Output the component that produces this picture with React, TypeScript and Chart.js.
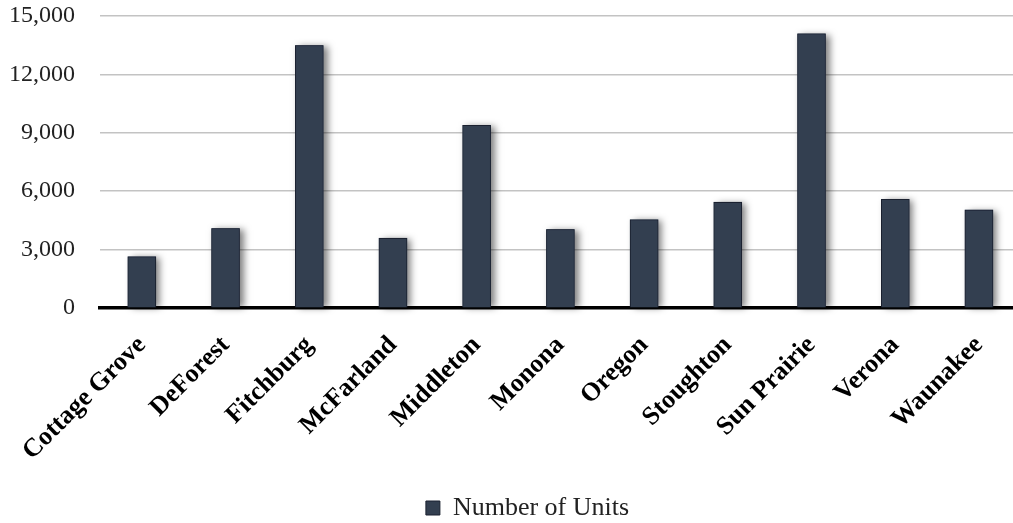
import { useEffect, useRef } from "react";
import { Chart, registerables } from "chart.js";

Chart.register(...registerables);

const categories = [
  "Cottage Grove",
  "DeForest",
  "Fitchburg",
  "McFarland",
  "Middleton",
  "Monona",
  "Oregon",
  "Stoughton",
  "Sun Prairie",
  "Verona",
  "Waunakee",
];
const units = [2650, 4100, 13500, 3600, 9400, 4050, 4550, 5450, 14100, 5600, 5050];
const seriesLabel = "Number of Units";
const yMin = 0;
const yMax = 15000;
const yStep = 3000;

const FONT = "'Liberation Serif', 'Times New Roman', serif";
const BAR_FILL = "#333f50";

export default function App() {
  const ref = useRef<HTMLCanvasElement>(null);

  useEffect(() => {
    document.body.style.margin = "0";
    document.body.style.overflow = "hidden";
    const canvas = ref.current;
    if (!canvas) return;

    const shadowPlugin = {
      id: "barShadow",
      beforeDatasetsDraw(chart: any) {
        const ctx = chart.ctx;
        const meta = chart.getDatasetMeta(0);
        ctx.save();
        ctx.shadowColor = "rgba(0,0,0,0.5)";
        ctx.shadowBlur = 7;
        ctx.shadowOffsetX = 4;
        ctx.shadowOffsetY = 1;
        ctx.fillStyle = BAR_FILL;
        meta.data.forEach((bar: any) => {
          const p = bar.getProps(["x", "y", "base", "width"], true);
          ctx.fillRect(p.x - p.width / 2, p.y, p.width, p.base - p.y);
        });
        ctx.restore();
      },
    };

    const legendShift = {
      id: "legendShift",
      afterLayout(chart: any) {
        const lg = chart.legend;
        if (lg) {
          lg.left += 16;
          lg.right += 16;
        }
      },
    };

    const chart = new Chart(canvas, {
      type: "bar",
      data: {
        labels: categories,
        datasets: [
          {
            label: seriesLabel,
            data: units,
            backgroundColor: BAR_FILL,
            borderColor: "#1b2130",
            borderWidth: 1,
            categoryPercentage: 1,
            barPercentage: 0.34,
          },
        ],
      },
      options: {
        animation: false,
        responsive: true,
        maintainAspectRatio: false,
        layout: { padding: { top: 16, right: 0, bottom: -8, left: 0 } },
        plugins: {
          tooltip: { enabled: false },
          legend: {
            position: "bottom",
            labels: {
              boxWidth: 14,
              boxHeight: 14,
              padding: 10,
              color: "#222",
              font: { family: FONT, size: 26 },
            },
          },
        },
        scales: {
          x: {
            grid: { display: false, drawTicks: false },
            border: { display: true, color: "#000", width: 3.5 },
            ticks: {
              color: "#000",
              minRotation: 45,
              maxRotation: 45,
              padding: 22,
              font: { family: FONT, size: 26, weight: "bold" },
            },
            afterFit(scale: any) {
              scale.height = 177;
            },
          },
          y: {
            min: yMin,
            max: yMax,
            border: { display: false },
            grid: {
              color: "#c3c3c3",
              lineWidth: 1.5,
              drawTicks: false,
            },
            ticks: {
              stepSize: yStep,
              color: "#222",
              padding: 25,
              font: { family: FONT, size: 24 },
              callback: (v: any) => Number(v).toLocaleString("en-US"),
            },
            afterFit(scale: any) {
              scale.width = 100;
              scale.paddingTop = 0;
              scale.paddingBottom = 0;
            },
          },
        },
      },
      plugins: [shadowPlugin, legendShift],
    });

    return () => chart.destroy();
  }, []);

  return (
    <div style={{ position: "fixed", left: 0, top: 0, width: 1023, height: 523 }}>
      <canvas ref={ref} />
    </div>
  );
}
